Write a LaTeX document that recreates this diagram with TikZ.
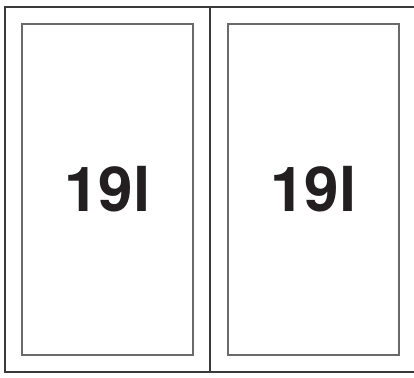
\documentclass[tikz,border=0pt]{standalone}
\usepackage{fontspec}
\newfontfamily\heros{TeX Gyre Heros}
\usepackage{xcolor}
\definecolor{frameInk}{HTML}{3A3A3A}
\definecolor{panelInk}{HTML}{6A6A6A}
\definecolor{textInk}{HTML}{231F20}
\usepackage{tikz}
\usetikzlibrary{positioning}
\tikzset{x=1pt,y=-1pt,
  frame/.style={draw=frameInk,line width=1.1pt},
  panel/.style={draw=panelInk,line width=1.8pt,minimum width=171pt,minimum height=331pt,
    inner sep=0pt,text=textInk,font=\heros\bfseries\fontsize{62}{62}\selectfont}}

\begin{document}
\begin{tikzpicture}
  \useasboundingbox (0,0) rectangle (414,377);
  \draw[frame] (5,7) rectangle (420,372);
  \coordinate (divtop) at (210,7);
  \coordinate (divbot) at (210,372);
  \draw[frame] (divtop)--(divbot);
  \node[panel] (lpanel) at (107.5,189.5) {19l};
  \node[panel,right=33pt of lpanel] (rpanel) {19l};
\end{tikzpicture}
\end{document}
